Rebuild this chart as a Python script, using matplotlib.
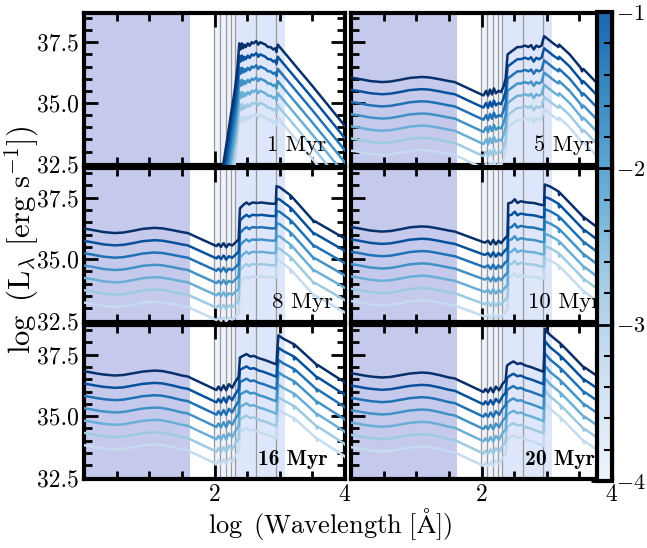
import matplotlib
matplotlib.use("Agg")
import matplotlib.pyplot as plt
import numpy as np
from matplotlib.colors import ListedColormap, Normalize
from matplotlib.ticker import MultipleLocator
import matplotlib.colorbar as mcolorbar

plt.rcParams['font.family'] = 'serif'
plt.rcParams['font.serif'] = ['cmr10']
plt.rcParams['mathtext.fontset'] = 'cm'
plt.rcParams['axes.formatter.use_mathtext'] = True

# ---------------- data ----------------
ages = ["1 Myr", "5 Myr", "8 Myr", "10 Myr", "16 Myr", "20 Myr"]
zvals = [-1.0, -1.5, -2.0, -2.5, -3.0, -3.5, -4.0]
offsets = [0.0, -0.5, -1.0, -1.5, -2.0, -2.5, -3.0]
line_colors = ["#08306b", "#08519c", "#2171b5", "#4292c6", "#6baed6", "#9ecae1", "#c6dbef"]

x_1 = [2.05, 2.135, 2.20, 2.25, 2.31, 2.35, 2.38, 2.40, 2.42, 2.44, 2.46, 2.48, 2.51, 2.54,
       2.57, 2.60, 2.64, 2.67, 2.70, 2.74, 2.78, 2.82, 2.86, 2.90, 2.93, 2.95, 2.97, 3.00, 3.50, 4.00]
y_1 = [31.3, 32.5, 33.6, 34.5, 35.5, 36.4, 37.45, 37.2, 37.45, 37.25, 37.4, 37.3, 37.45, 37.35,
       37.5, 37.45, 37.55, 37.4, 37.5, 37.45, 37.4, 37.3, 37.3, 37.2, 37.25, 37.1, 37.4, 37.3, 35.7, 34.05]

x_5 = [0.0, 0.1, 0.2, 0.3, 0.47, 0.6, 0.75, 0.9, 1.08, 1.2, 1.35, 1.5, 1.59, 2.03, 2.07, 2.10, 2.13,
       2.16, 2.19, 2.22, 2.26, 2.30, 2.34, 2.37, 2.40, 2.45, 2.50, 2.55, 2.60, 2.67, 2.72, 2.76, 2.80,
       2.84, 2.88, 2.92, 2.96, 3.10, 3.18, 3.19, 3.35, 3.52, 3.54, 3.56, 3.74, 4.0]
y_5 = [36.04, 36.0, 35.95, 35.9, 35.86, 35.88, 35.95, 36.03, 36.07, 36.05, 35.98, 35.9, 35.86, 35.31, 35.5,
       35.3, 35.55, 35.35, 35.6, 35.4, 35.5, 35.45, 35.7, 36.0, 37.0, 37.1, 37.2, 37.3, 37.3, 37.36, 37.3,
       37.38, 37.2, 37.36, 37.3, 37.36, 37.75, 37.45, 37.3, 37.4, 37.0, 36.45, 36.3, 36.4, 35.9, 35.3]

x_8 = [0.0, 0.1, 0.2, 0.3, 0.47, 0.6, 0.75, 0.9, 1.08, 1.2, 1.35, 1.5, 1.59, 2.03, 2.06, 2.10, 2.14,
       2.18, 2.22, 2.27, 2.33, 2.37, 2.39, 2.44, 2.49, 2.53, 2.58, 2.65, 2.72, 2.80, 2.88, 2.94, 2.95,
       3.00, 3.10, 3.16, 3.17, 3.18, 3.51, 3.52, 3.53, 3.97, 4.0]
y_8 = [36.24, 36.2, 36.15, 36.1, 36.06, 36.08, 36.15, 36.23, 36.27, 36.25, 36.18, 36.1, 36.06, 35.53, 35.62,
       35.5, 35.65, 35.48, 35.62, 35.55, 35.7, 35.8, 37.06, 37.2, 37.3, 37.22, 37.3, 37.28, 37.3, 37.27, 37.25,
       37.25, 37.96, 37.92, 37.72, 37.6, 37.45, 37.55, 36.57, 36.5, 36.55, 35.88, 35.83]

x_10 = [0.0, 0.1, 0.2, 0.3, 0.47, 0.6, 0.75, 0.9, 1.08, 1.2, 1.35, 1.5, 1.59, 2.05, 2.10, 2.14, 2.18,
        2.22, 2.26, 2.30, 2.36, 2.40, 2.41, 2.46, 2.51, 2.55, 2.60, 2.70, 2.80, 2.92, 2.96, 2.97, 3.05,
        3.18, 3.19, 3.20, 3.56, 3.57, 3.58, 3.74, 4.0]
y_10 = [36.3, 36.26, 36.21, 36.16, 36.12, 36.14, 36.21, 36.29, 36.33, 36.31, 36.24, 36.16, 36.12, 35.67, 35.75,
        35.6, 35.78, 35.6, 35.75, 35.65, 35.85, 35.95, 37.27, 37.3, 37.43, 37.28, 37.35, 37.3, 37.28, 37.2, 37.2,
        38.03, 37.95, 37.75, 37.6, 37.7, 36.71, 36.6, 36.68, 36.36, 35.85]

x_16 = [0.0, 0.1, 0.2, 0.3, 0.47, 0.6, 0.75, 0.9, 1.08, 1.2, 1.35, 1.5, 1.59, 2.03, 2.06, 2.10, 2.14,
        2.18, 2.22, 2.27, 2.32, 2.37, 2.39, 2.44, 2.49, 2.55, 2.60, 2.68, 2.75, 2.85, 2.95, 2.96, 2.98,
        3.05, 3.21, 3.22, 3.23, 3.56, 3.57, 3.58, 3.98, 4.0]
y_16 = [36.82, 36.78, 36.73, 36.69, 36.65, 36.67, 36.74, 36.81, 36.85, 36.83, 36.75, 36.65, 36.61, 36.06, 36.2,
        36.05, 36.25, 36.05, 36.3, 36.15, 36.4, 36.6, 37.38, 37.45, 37.52, 37.42, 37.45, 37.35, 37.3, 37.2, 37.1,
        37.6, 38.28, 38.15, 37.93, 37.8, 37.9, 37.1, 37.0, 37.08, 36.4, 36.35]

x_20 = [0.0, 0.1, 0.2, 0.3, 0.47, 0.6, 0.75, 0.9, 1.08, 1.2, 1.35, 1.5, 1.59, 2.03, 2.06, 2.10, 2.14,
        2.18, 2.22, 2.27, 2.32, 2.37, 2.39, 2.44, 2.49, 2.55, 2.60, 2.68, 2.75, 2.85, 2.95, 2.96, 2.97,
        3.05, 3.21, 3.22, 3.23, 3.56, 3.57, 3.58, 3.98, 4.0]
y_20 = [36.74, 36.7, 36.65, 36.61, 36.57, 36.59, 36.66, 36.73, 36.77, 36.75, 36.67, 36.57, 36.53, 35.98, 36.1,
        35.97, 36.15, 35.97, 36.2, 36.05, 36.3, 36.45, 37.05, 37.15, 37.22, 37.12, 37.15, 37.05, 37.0, 36.9, 36.8,
        37.4, 38.55, 38.3, 37.95, 37.8, 37.9, 37.0, 36.9, 36.98, 36.25, 36.2]

spectra_x = [x_1, x_5, x_8, x_10, x_16, x_20]
spectra_y = [y_1, y_5, y_8, y_10, y_16, y_20]

vlines_x = [1.99, 2.09, 2.18, 2.25, 2.32, 2.64, 2.95]
dark_span = (0.0, 1.62)
light_span = (2.33, 3.08)
faint_span = (1.99, 2.33)

# ---------------- figure ----------------
W, H = 647, 548
fig = plt.figure(figsize=(W / 100, H / 100), dpi=100)

col_left = [84, 351]
col_w = 261
rows_px = [(13, 165), (168, 322), (325, 479)]
row_text = [(0.93, 'cmr10', 16), (0.955, 'cmr10', 16.5), (0.935, 'cmb10', 15.5)]

for i in range(6):
    r, c = divmod(i, 2)
    top, bot = rows_px[r]
    ax = fig.add_axes([col_left[c] / W, 1 - bot / H, col_w / W, (bot - top) / H])
    ax.axvspan(*dark_span, color="#c5c9ec", lw=0, zorder=0)
    ax.axvspan(*faint_span, color="#eef2fc", lw=0, zorder=0)
    ax.axvspan(*light_span, color="#dde6fa", lw=0, zorder=0)
    for xv in vlines_x:
        ax.axvline(xv, color="#999999", lw=0.9, zorder=1)
    xs = np.array(spectra_x[i])
    ys = np.array(spectra_y[i])
    for off, col in zip(offsets[::-1], line_colors[::-1]):
        ax.plot(xs, ys + off, color=col, lw=1.8, zorder=3)
    ax.set_xlim(0, 4)
    ax.set_ylim(32.45, 38.7)
    ax.set_xticks([2, 4])
    ax.xaxis.set_minor_locator(MultipleLocator(0.5))
    ax.set_yticks([32.5, 35.0, 37.5])
    ax.yaxis.set_minor_locator(MultipleLocator(0.5))
    ax.tick_params(which='both', direction='in', top=True, right=True, width=2, labelsize=17)
    ax.tick_params(which='major', length=10)
    ax.tick_params(which='minor', length=6)
    for s in ax.spines.values():
        s.set_linewidth(3)
    if c == 1:
        ax.set_yticklabels([])
    else:
        ax.set_yticklabels(["32.5", "35.0", "37.5"])
    if r < 2:
        ax.set_xticklabels([])
    tx, fam, fs = row_text[r]
    ax.text(tx, 0.09, ages[i], family=fam,
            transform=ax.transAxes, ha='right', va='baseline', fontsize=fs, zorder=5)

# colorbar
cax = fig.add_axes([597 / W, 1 - 481 / H, 15 / W, (481 - 12) / H])
base = plt.get_cmap('Blues')
cmap = ListedColormap(base(np.linspace(0.05, 0.78, 256)))
cb = mcolorbar.ColorbarBase(cax, cmap=cmap, norm=Normalize(-4, -1), orientation='vertical')
cb.set_ticks([-1, -2, -3, -4])
cax.yaxis.set_minor_locator(MultipleLocator(0.2))
cax.tick_params(which='major', direction='in', length=15, width=2, labelsize=16, pad=3)
cax.tick_params(which='minor', direction='in', length=6, width=1.5)
cb.outline.set_linewidth(3)

fig.text(22 / W, 1 - 240 / H, r"$\log\ (\mathrm{L}_\lambda\ [\mathrm{erg\ s}^{-1}])$",
         rotation=90, ha='center', va='center', fontsize=22)
fig.text(330 / W, 1 - 524 / H, r"$\log\ (\mathrm{Wavelength}\ [\mathrm{\AA}])$",
         ha='center', va='center', fontsize=19)

fig.savefig("out.png", dpi=100)
